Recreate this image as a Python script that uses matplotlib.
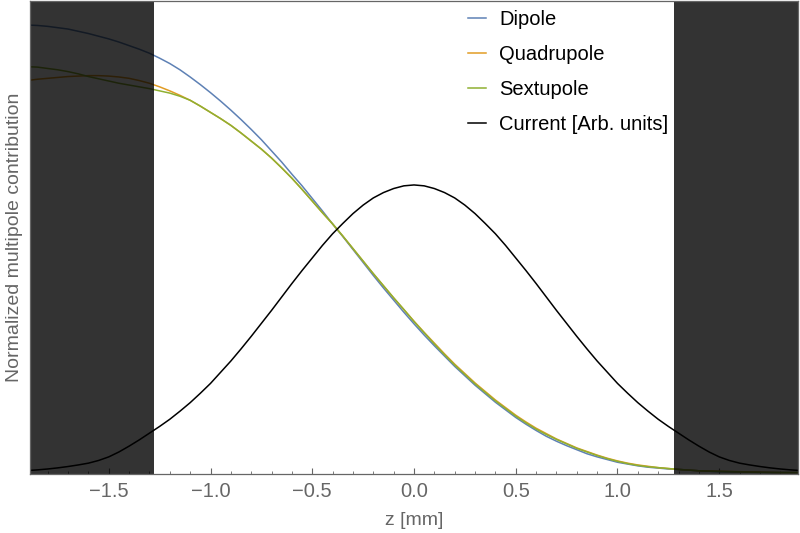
import matplotlib
matplotlib.use('Agg')
import matplotlib.pyplot as plt
from matplotlib.ticker import MultipleLocator

# z positions [mm]
z = [-1.9, -1.85, -1.8, -1.75, -1.7, -1.65, -1.6, -1.55, -1.5, -1.45,
     -1.4, -1.35, -1.3, -1.25, -1.2, -1.15, -1.1, -1.05, -1.0, -0.95,
     -0.9, -0.85, -0.8, -0.75, -0.7, -0.65, -0.6, -0.55, -0.5, -0.45,
     -0.4, -0.35, -0.3, -0.25, -0.2, -0.15, -0.1, -0.05, 0.0,
     0.05, 0.1, 0.15, 0.2, 0.25, 0.3, 0.35, 0.4, 0.45, 0.5,
     0.55, 0.6, 0.65, 0.7, 0.75, 0.8, 0.85, 0.9, 0.95, 1.0,
     1.05, 1.1, 1.15, 1.2, 1.25, 1.3, 1.35, 1.4, 1.45, 1.5,
     1.55, 1.6, 1.65, 1.7, 1.75, 1.8, 1.85, 1.9]

dipole = [1.000, 0.999, 0.997, 0.994, 0.991, 0.986, 0.981, 0.975, 0.969, 0.962,
          0.954, 0.946, 0.937, 0.926, 0.914, 0.900, 0.884, 0.867, 0.849, 0.830,
          0.810, 0.789, 0.767, 0.744, 0.719, 0.694, 0.667, 0.641, 0.613, 0.585,
          0.556, 0.528, 0.499, 0.470, 0.441, 0.413, 0.386, 0.359, 0.333,
          0.308, 0.284, 0.261, 0.238, 0.217, 0.196, 0.177, 0.158, 0.141, 0.124,
          0.109, 0.095, 0.082, 0.071, 0.061, 0.052, 0.043, 0.036, 0.030, 0.024,
          0.020, 0.016, 0.013, 0.011, 0.009, 0.008, 0.0065, 0.005, 0.004, 0.003,
          0.0025, 0.002, 0.0017, 0.0015, 0.0012, 0.001, 0.001, 0.001]

quadrupole = [0.876, 0.879, 0.881, 0.883, 0.885, 0.886, 0.887, 0.887, 0.886, 0.884,
              0.881, 0.876, 0.870, 0.862, 0.853, 0.843, 0.832, 0.819, 0.805, 0.791,
              0.776, 0.759, 0.741, 0.723, 0.703, 0.681, 0.658, 0.633, 0.607, 0.581,
              0.556, 0.529, 0.501, 0.473, 0.445, 0.418, 0.391, 0.365, 0.339,
              0.314, 0.290, 0.266, 0.243, 0.222, 0.201, 0.182, 0.163, 0.146, 0.129,
              0.114, 0.100, 0.088, 0.076, 0.066, 0.056, 0.048, 0.040, 0.033, 0.027,
              0.022, 0.018, 0.015, 0.012, 0.010, 0.008, 0.0065, 0.005, 0.0045, 0.004,
              0.0035, 0.003, 0.0025, 0.002, 0.0015, 0.001, 0.001, 0.001]

sextupole = [0.907, 0.906, 0.903, 0.900, 0.896, 0.891, 0.885, 0.880, 0.875, 0.870,
             0.866, 0.862, 0.858, 0.853, 0.848, 0.841, 0.832, 0.819, 0.805, 0.791,
             0.776, 0.759, 0.741, 0.723, 0.703, 0.681, 0.658, 0.633, 0.607, 0.581,
             0.556, 0.529, 0.501, 0.473, 0.445, 0.418, 0.391, 0.365, 0.338,
             0.313, 0.288, 0.264, 0.241, 0.220, 0.199, 0.180, 0.161, 0.144, 0.127,
             0.112, 0.098, 0.086, 0.075, 0.065, 0.055, 0.047, 0.039, 0.032, 0.026,
             0.021, 0.017, 0.014, 0.012, 0.010, 0.008, 0.0065, 0.005, 0.004, 0.0035,
             0.003, 0.0025, 0.002, 0.0015, 0.0012, 0.001, 0.001, 0.001]

current = [0.0055, 0.007, 0.009, 0.0115, 0.0145, 0.018, 0.022, 0.028, 0.036, 0.047,
           0.060, 0.074, 0.089, 0.104, 0.120, 0.138, 0.157, 0.178, 0.200, 0.225,
           0.250, 0.277, 0.305, 0.334, 0.363, 0.393, 0.423, 0.452, 0.480, 0.508,
           0.534, 0.557, 0.579, 0.598, 0.614, 0.626, 0.635, 0.641, 0.643,
           0.641, 0.635, 0.626, 0.614, 0.598, 0.579, 0.557, 0.534, 0.508, 0.480,
           0.452, 0.423, 0.393, 0.363, 0.334, 0.305, 0.277, 0.250, 0.225, 0.200,
           0.178, 0.157, 0.138, 0.120, 0.104, 0.089, 0.074, 0.060, 0.047, 0.036,
           0.028, 0.022, 0.018, 0.0145, 0.0115, 0.009, 0.007, 0.0055]

shade_edge = 1.28
grey = '#666666'

plt.rcParams['font.family'] = ['Liberation Sans', 'DejaVu Sans']

fig = plt.figure(figsize=(8, 5.33), dpi=100)
ax = fig.add_axes([30 / 800, 59 / 533, 768 / 800, 473 / 533])

ax.plot(z, dipole, color='#5E81B5', lw=1.1, label='Dipole')
ax.plot(z, quadrupole, color='#E19C24', lw=1.1, label='Quadrupole')
ax.plot(z, sextupole, color='#8FB032', lw=1.1, label='Sextupole')
ax.plot(z, current, color='black', lw=1.1, label='Current [Arb. units]')

# dark overlay outside the region of interest
ax.axvspan(-2.0, -shade_edge, color='black', alpha=0.8, lw=0, zorder=5)
ax.axvspan(shade_edge, 2.0, color='black', alpha=0.8, lw=0, zorder=5)

ax.set_xlim(-1.887, 1.887)
ax.set_ylim(-0.0022, 1.0536)

ax.xaxis.set_major_locator(MultipleLocator(0.5))
ax.xaxis.set_minor_locator(MultipleLocator(0.1))
ax.set_yticks([])
ax.tick_params(axis='x', which='major', direction='in', length=4, width=0.8,
               color=grey, labelcolor=grey, labelsize=14.5, pad=6)
ax.tick_params(axis='x', which='minor', direction='in', length=2, width=0.6, color=grey)
for s in ax.spines.values():
    s.set_color(grey)
    s.set_linewidth(0.9)
    s.set_zorder(10)

ax.set_xlabel('z [mm]', color=grey, fontsize=14, labelpad=8)
ax.set_ylabel('Normalized multipole contribution', color=grey, fontsize=14, labelpad=5)

leg = ax.legend(loc='upper left', bbox_to_anchor=(468 / 800, 523 / 533),
                bbox_transform=fig.transFigure, frameon=False, fontsize=14.5,
                borderpad=0, borderaxespad=0, handlelength=0.9, handletextpad=0.65,
                labelspacing=0.8)
leg.set_zorder(11)

fig.savefig('out.png', dpi=100)
